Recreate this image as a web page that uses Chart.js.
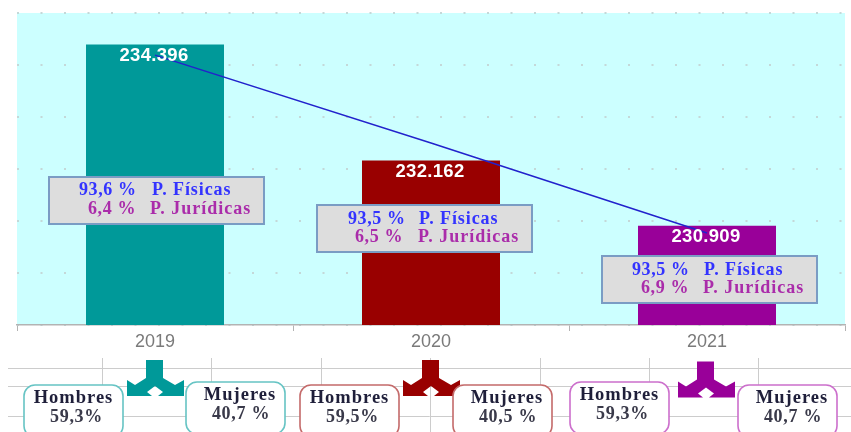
<!DOCTYPE html>
<html>
<head>
<meta charset="utf-8">
<style>
html, body { margin: 0; padding: 0; background: #fff; overflow: hidden; }
canvas { display: block; filter: blur(0.5px); }
</style>
<script src="https://cdn.jsdelivr.net/npm/chart.js@4"></script>
</head>
<body>
<canvas id="Chart" width="851" height="432"></canvas>
<script>
// Data for the chart
var years = ['2019', '2020', '2021'];
var totals = [234396, 232162, 230909];
var trend = [234190, 232500, 230770];
var fisicas = [93.6, 93.5, 93.5];
var juridicas = [6.4, 6.5, 6.9];
var hombres = [59.3, 59.5, 59.3];
var mujeres = [40.7, 40.5, 40.7];

var barColors = ['#009999', '#990000', '#990099'];
var edgeColors = ['#66c4c4', '#c46a6a', '#cc6fcc'];

// Where the annotation boxes sit on the page
var infoBoxes = [
    { x: 49, y: 177, pctA: 79, labA: 152, pctB: 88, labB: 150, rowA: 190.5, rowB: 209.5 },
    { x: 317, y: 205, pctA: 348, labA: 419, pctB: 355, labB: 418, rowA: 219.5, rowB: 237.5 },
    { x: 602, y: 256, pctA: 632, labA: 704, pctB: 641, labB: 703, rowA: 270.5, rowB: 288.5 }
];
var genderBoxes = [
    { hx: 24, hy: 385, mx: 186, my: 382 },
    { hx: 300, hy: 385, mx: 453, my: 385 },
    { hx: 570, hy: 382, mx: 738, my: 385 }
];
var arrows = [{ x: 155, y: 0 }, { x: 431, y: 0 }, { x: 706, y: 1.5 }];

function comma(v) {
    return v.toFixed(1).replace('.', ',');
}

function text(ctx, str, x, y, font, color, align, spacing) {
    ctx.font = font;
    ctx.fillStyle = color;
    ctx.textAlign = align || 'left';
    ctx.textBaseline = 'middle';
    ctx.letterSpacing = spacing || '0px';
    ctx.fillText(str, x, y);
    ctx.letterSpacing = '0px';
}

// Three-way arrow under each year
function drawArrow(ctx, cx, dy, color) {
    var pts = [[-9, 360], [8, 360], [8, 378], [20, 385], [29, 380], [29, 396], [3, 396], [8, 392],
        [0, 386], [-8, 392], [-3, 396], [-28, 396], [-28, 380], [-20, 385], [-9, 378]];
    ctx.beginPath();
    pts.forEach(function (p, i) {
        if (i === 0) ctx.moveTo(cx + p[0], p[1] + dy);
        else ctx.lineTo(cx + p[0], p[1] + dy);
    });
    ctx.closePath();
    ctx.fillStyle = color;
    ctx.fill();
}

function drawGender(ctx, x, y, color, title, value, cx, vx) {
    ctx.beginPath();
    ctx.roundRect(x, y, 99, 52, 11);
    ctx.fillStyle = '#ffffff';
    ctx.fill();
    ctx.lineWidth = 1.6;
    ctx.strokeStyle = color;
    ctx.stroke();
    text(ctx, title, cx, y + 13.5, 'bold 18.5px "Liberation Serif"', '#1f1f3a', 'center', '1px');
    text(ctx, value, vx, y + 32.5, 'bold 18px "Liberation Serif"', '#3a3a4a', 'center', '0.7px');
}

var decorations = {
    id: 'decorations',
    beforeDraw: function (chart) {
        var ctx = chart.ctx, a = chart.chartArea;
        ctx.save();
        ctx.fillStyle = '#ffffff';
        ctx.fillRect(0, 0, chart.width, chart.height);
        ctx.fillStyle = '#ccffff';
        ctx.fillRect(a.left, a.top, a.right - a.left, a.bottom - a.top);

        // Leftover grid under the axis
        ctx.strokeStyle = '#cccccc';
        ctx.lineWidth = 1;
        [368.5, 386.5, 416.5].forEach(function (y) {
            ctx.beginPath();
            ctx.moveTo(8, y);
            ctx.lineTo(851, y);
            ctx.stroke();
        });
        [102.5, 211.5, 321.5, 430.5, 540.5, 649.5, 758.5].forEach(function (x) {
            ctx.beginPath();
            ctx.moveTo(x, 358);
            ctx.lineTo(x, 432);
            ctx.stroke();
        });
        ctx.restore();
    },
    afterDraw: function (chart) {
        var ctx = chart.ctx;
        var bars = chart.getDatasetMeta(1).data;
        ctx.save();
        totals.forEach(function (v, i) {
            var label = String(v).replace(/(\d{3})$/, '.$1');
            text(ctx, label, bars[i].x - 1, bars[i].y + 11.5, 'bold 18.5px "Liberation Sans"', '#ffffff', 'center', '0.3px');
        });

        var serif = 'bold 18px "Liberation Serif"';
        infoBoxes.forEach(function (b, i) {
            ctx.fillStyle = '#dddddd';
            ctx.fillRect(b.x, b.y, 215, 47);
            ctx.strokeStyle = '#7a9cc4';
            ctx.lineWidth = 2;
            ctx.strokeRect(b.x, b.y, 215, 47);
            text(ctx, comma(fisicas[i]) + ' %', b.pctA, b.rowA, serif, '#3333ff', 'left', '0.6px');
            text(ctx, 'P. Físicas', b.labA, b.rowA, serif, '#3333ff', 'left', '0.9px');
            text(ctx, comma(juridicas[i]) + ' %', b.pctB, b.rowB, serif, '#aa2caa', 'left', '0.6px');
            text(ctx, 'P. Jurídicas', b.labB, b.rowB, serif, '#aa2caa', 'left', '1px');
        });

        arrows.forEach(function (a, i) {
            drawArrow(ctx, a.x, a.y, barColors[i]);
        });
        genderBoxes.forEach(function (g, i) {
            drawGender(ctx, g.hx, g.hy, edgeColors[i], 'Hombres', comma(hombres[i]) + '%', g.hx + 49.5, g.hx + 52.5);
            drawGender(ctx, g.mx, g.my, edgeColors[i], 'Mujeres', comma(mujeres[i]) + ' %', g.mx + 54, g.mx + 55);
        });
        ctx.restore();
    }
};

// Chart configuration
var config = {
    type: 'bar',
    data: {
        labels: years,
        datasets: [
            {
                type: 'line',
                data: trend,
                borderColor: '#2222cc',
                borderWidth: 1.5,
                pointRadius: 0,
                tension: 0,
                order: 0
            },
            {
                data: totals,
                backgroundColor: barColors,
                barPercentage: 1,
                categoryPercentage: 0.5,
                order: 1
            }
        ]
    },
    options: {
        responsive: false,
        animation: false,
        devicePixelRatio: 1,
        layout: { padding: { left: 17, right: 6, top: 13, bottom: 0 } },
        plugins: { legend: { display: false }, tooltip: { enabled: false } },
        scales: {
            x: {
                afterFit: function (scale) { scale.height = 107; },
                grid: { drawOnChartArea: false, color: '#b3b3b3', tickLength: 6, offset: true },
                border: { color: '#b3b3b3', width: 1.5 },
                ticks: {
                    color: '#7a7a7a',
                    padding: 0,
                    font: { family: '"Liberation Sans"', size: 18 }
                }
            },
            y: {
                min: 229000,
                max: 235000,
                afterFit: function (scale) { scale.width = 0; },
                ticks: { display: false, stepSize: 1000 },
                border: { display: false, dash: [2, 21.5] },
                grid: { color: '#c4d8d8', lineWidth: 2, drawTicks: false, tickLength: 0 }
            }
        }
    },
    plugins: [decorations]
};

// Create a chart
var ctx = document.getElementById('Chart').getContext('2d');
var myChart = new Chart(ctx, config);
</script>
</body>
</html>
